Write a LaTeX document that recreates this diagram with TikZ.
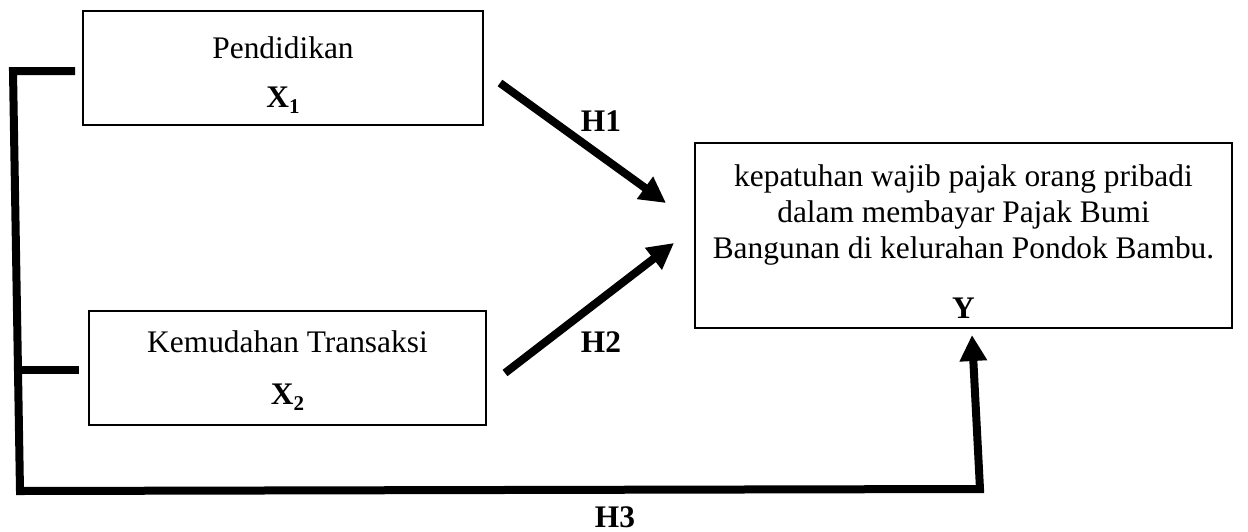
\documentclass[tikz,border=0pt]{standalone}
\usepackage{fontspec}
\setmainfont{Liberation Serif}
\usetikzlibrary{arrows.meta}
\pgfdeclarelayer{edgelayer}
\pgfdeclarelayer{nodelayer}
\pgfsetlayers{edgelayer,nodelayer,main}
\tikzstyle{none}=[inner sep=0pt]
\tikzstyle{box}=[draw, line width=0.75pt, inner sep=0pt, align=center, font=\fontsize{15.7}{18}\selectfont]
\tikzstyle{hyp}=[inner sep=0pt, font=\fontsize{15.7}{18}\selectfont\bfseries]
\tikzstyle{bold arrow}=[line width=4pt, -{Triangle[length=13pt,width=13pt]}]
\tikzstyle{bracket}=[line width=4pt, line join=miter]
\newcommand{\varx}[1]{\textbf{X}\raisebox{-0.4ex}{\fontsize{10.5}{12}\selectfont\textbf{#1}}}

\begin{document}
\begin{tikzpicture}[x=0.5pt, y=-0.5pt]
	\useasboundingbox (0,0) rectangle (1248,531);
	\begin{pgfonlayer}{nodelayer}
		\node [style=box, minimum width=200pt, minimum height=57pt] (0) at (283, 68) {\rule{0pt}{18pt}Pendidikan\\[6.5pt]\varx{1}};
		\node [style=box, minimum width=198.5pt, minimum height=57pt] (1) at (287.5, 368) {\rule{0pt}{13.7pt}Kemudahan Transaksi\\[8pt]\varx{2}};
		\node [style=box, minimum width=268.5pt, minimum height=92.5pt] (2) at (963.5, 235.5) {\rule{0pt}{17pt}kepatuhan wajib pajak orang pribadi\\dalam membayar Pajak Bumi\\Bangunan di kelurahan Pondok Bambu.\\[12pt]\textbf{Y}};
		\node [style=hyp] (3) at (601, 121) {H1};
		\node [style=hyp] (4) at (601, 342) {H2};
		\node [style=hyp] (5) at (615, 517) {H3};
		\coordinate (6) at (500, 83);
		\coordinate (7) at (666, 203);
		\coordinate (8) at (505, 373);
		\coordinate (9) at (674, 243);
		\coordinate (10) at (75, 71);
		\coordinate (11) at (13, 71);
		\coordinate (12) at (20, 491);
		\coordinate (13) at (980, 489);
		\coordinate (14) at (972, 335);
		\coordinate (15) at (14.5, 369.5);
		\coordinate (16) at (79, 369.5);
	\end{pgfonlayer}
	\begin{pgfonlayer}{edgelayer}
		\draw [style=bold arrow] (6) to (7);
		\draw [style=bold arrow] (8) to (9);
		\draw [style=bracket, -{Triangle[length=13pt,width=13pt]}] (10) -- (11) -- (12) -- (13) -- (14);
		\draw [style=bracket] (15) to (16);
	\end{pgfonlayer}
\end{tikzpicture}
\end{document}
